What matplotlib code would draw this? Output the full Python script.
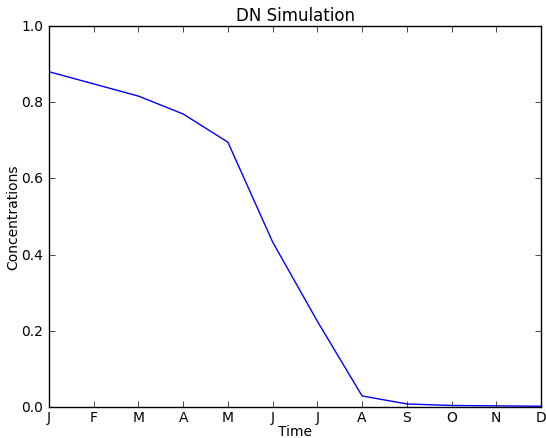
import matplotlib
matplotlib.use("Agg")
import matplotlib.pyplot as plt

months = ["J", "F", "M", "A", "M", "J", "J", "A", "S", "O", "N", "D"]
concentrations = [0.880, 0.848, 0.816, 0.769, 0.695, 0.433, 0.225, 0.029, 0.008, 0.004, 0.003, 0.002]

plt.style.use("classic")
fig = plt.figure(figsize=(5.46, 4.39), dpi=100)
ax = fig.add_axes([49/546, 1-408/439, (541-49)/546, (408-27)/439])
x = list(range(len(months)))
ax.plot(x, concentrations, color="#0000ff", lw=1.0)
ax.set_xlim(0, 11)
ax.set_ylim(0, 1.0)
ax.set_xticks(x)
ax.set_xticklabels(months)
ax.set_yticks([0.0, 0.2, 0.4, 0.6, 0.8, 1.0])
ax.tick_params(labelsize=10)
ax.tick_params(axis="x", pad=2)
ax.tick_params(axis="y", pad=4)
ax.set_title("DN Simulation", fontsize=12, pad=4)
ax.set_xlabel("Time", fontsize=10, labelpad=0.5)
ax.set_ylabel("Concentrations", fontsize=10, labelpad=1)
fig.savefig("out.png", dpi=100)
